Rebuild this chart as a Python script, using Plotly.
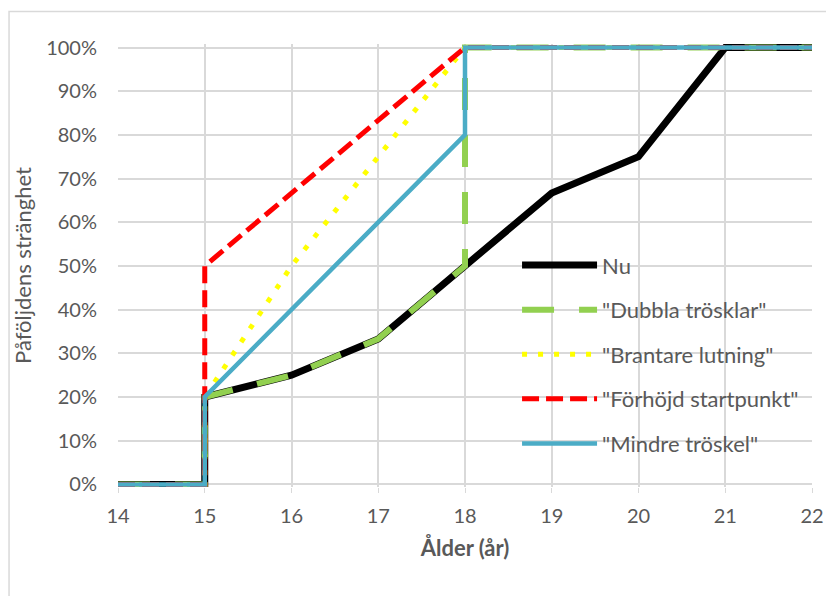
import plotly.graph_objects as go

# Data
nu_x = [14, 15, 15, 16, 17, 18, 19, 20, 21, 22]
nu_y = [0, 0, 0.20, 0.25, 0.333, 0.50, 0.667, 0.75, 1.0, 1.0]

dubbla_x = [14, 15, 15, 16, 17, 18, 18, 22]
dubbla_y = [0, 0, 0.20, 0.25, 0.333, 0.50, 1.0, 1.0]

brant_x = [14, 15, 15, 16, 17, 18, 22]
brant_y = [0, 0, 0.20, 0.50, 0.75, 1.0, 1.0]

forh_x = [14, 15, 15, 16, 17, 18, 22]
forh_y = [0, 0, 0.50, 0.667, 0.833, 1.0, 1.0]

mindre_x = [14, 15, 15, 16, 17, 18, 18, 22]
mindre_y = [0, 0, 0.20, 0.40, 0.60, 0.80, 1.0, 1.0]

names = ["Nu", '"Dubbla trösklar"', '"Brantare lutning"', '"Förhöjd startpunkt"', '"Mindre tröskel"']
x_ticks = [14, 15, 16, 17, 18, 19, 20, 21, 22]
y_ticks = [0, 0.1, 0.2, 0.3, 0.4, 0.5, 0.6, 0.7, 0.8, 0.9, 1.0]
y_labels = ["0%", "10%", "20%", "30%", "40%", "50%", "60%", "70%", "80%", "90%", "100%"]

FONT = "Lato, 'Open Sans', sans-serif"
GRAY = "#595959"

fig = go.Figure()
series = [
    (nu_x, nu_y, dict(color="black", width=7)),
    (dubbla_x, dubbla_y, dict(color="#92D050", width=6, dash="32px,25px")),
    (brant_x, brant_y, dict(color="#FFFF00", width=5, dash="5px,11px")),
    (forh_x, forh_y, dict(color="#FF0000", width=5, dash="17px,7px")),
    (mindre_x, mindre_y, dict(color="#4BACC6", width=4.5)),
]
for i, (xs, ys, ln) in enumerate(series):
    fig.add_trace(go.Scatter(x=xs, y=ys, mode="lines", name=names[i], line=ln,
                             legendgroup=str(i)))

fig.update_layout(
    width=834, height=596,
    margin=dict(l=110, r=30, t=36, b=117),
    paper_bgcolor="white", plot_bgcolor="white",
    font=dict(family=FONT, color=GRAY, size=20),
    xaxis=dict(range=[14, 22], tickvals=x_ticks, showgrid=True, gridcolor="#d9d9d9",
               gridwidth=1.5, zeroline=False, ticks="outside", ticklen=5,
               tickcolor="#d9d9d9", tickfont=dict(size=20, color=GRAY),
               ticklabelstandoff=6,
               title=dict(text="<b>Ålder (år)</b>", font=dict(size=22, color=GRAY), standoff=14)),
    yaxis=dict(range=[-0.006, 1.008], tickvals=y_ticks, ticktext=y_labels, showgrid=True,
               gridcolor="#d9d9d9", gridwidth=1.5, zeroline=False,
               tickfont=dict(size=20, color=GRAY), ticklabelstandoff=20,
               title=dict(text="Påföljdens stränghet", font=dict(size=22, color=GRAY), standoff=8)),
    legend=dict(x=0.575, y=0.548, xanchor="left", yanchor="top", bgcolor="rgba(0,0,0,0)",
                font=dict(size=22, color=GRAY), itemwidth=75, traceorder="grouped",
                tracegroupgap=13),
    showlegend=True,
)
fig.add_shape(type="rect", xref="paper", yref="paper",
              x0=-0.157, x1=1.06, y0=-0.3, y1=1.0736,
              line=dict(color="#d9d9d9", width=1.5), layer="below")

fig.write_html("out.html")
